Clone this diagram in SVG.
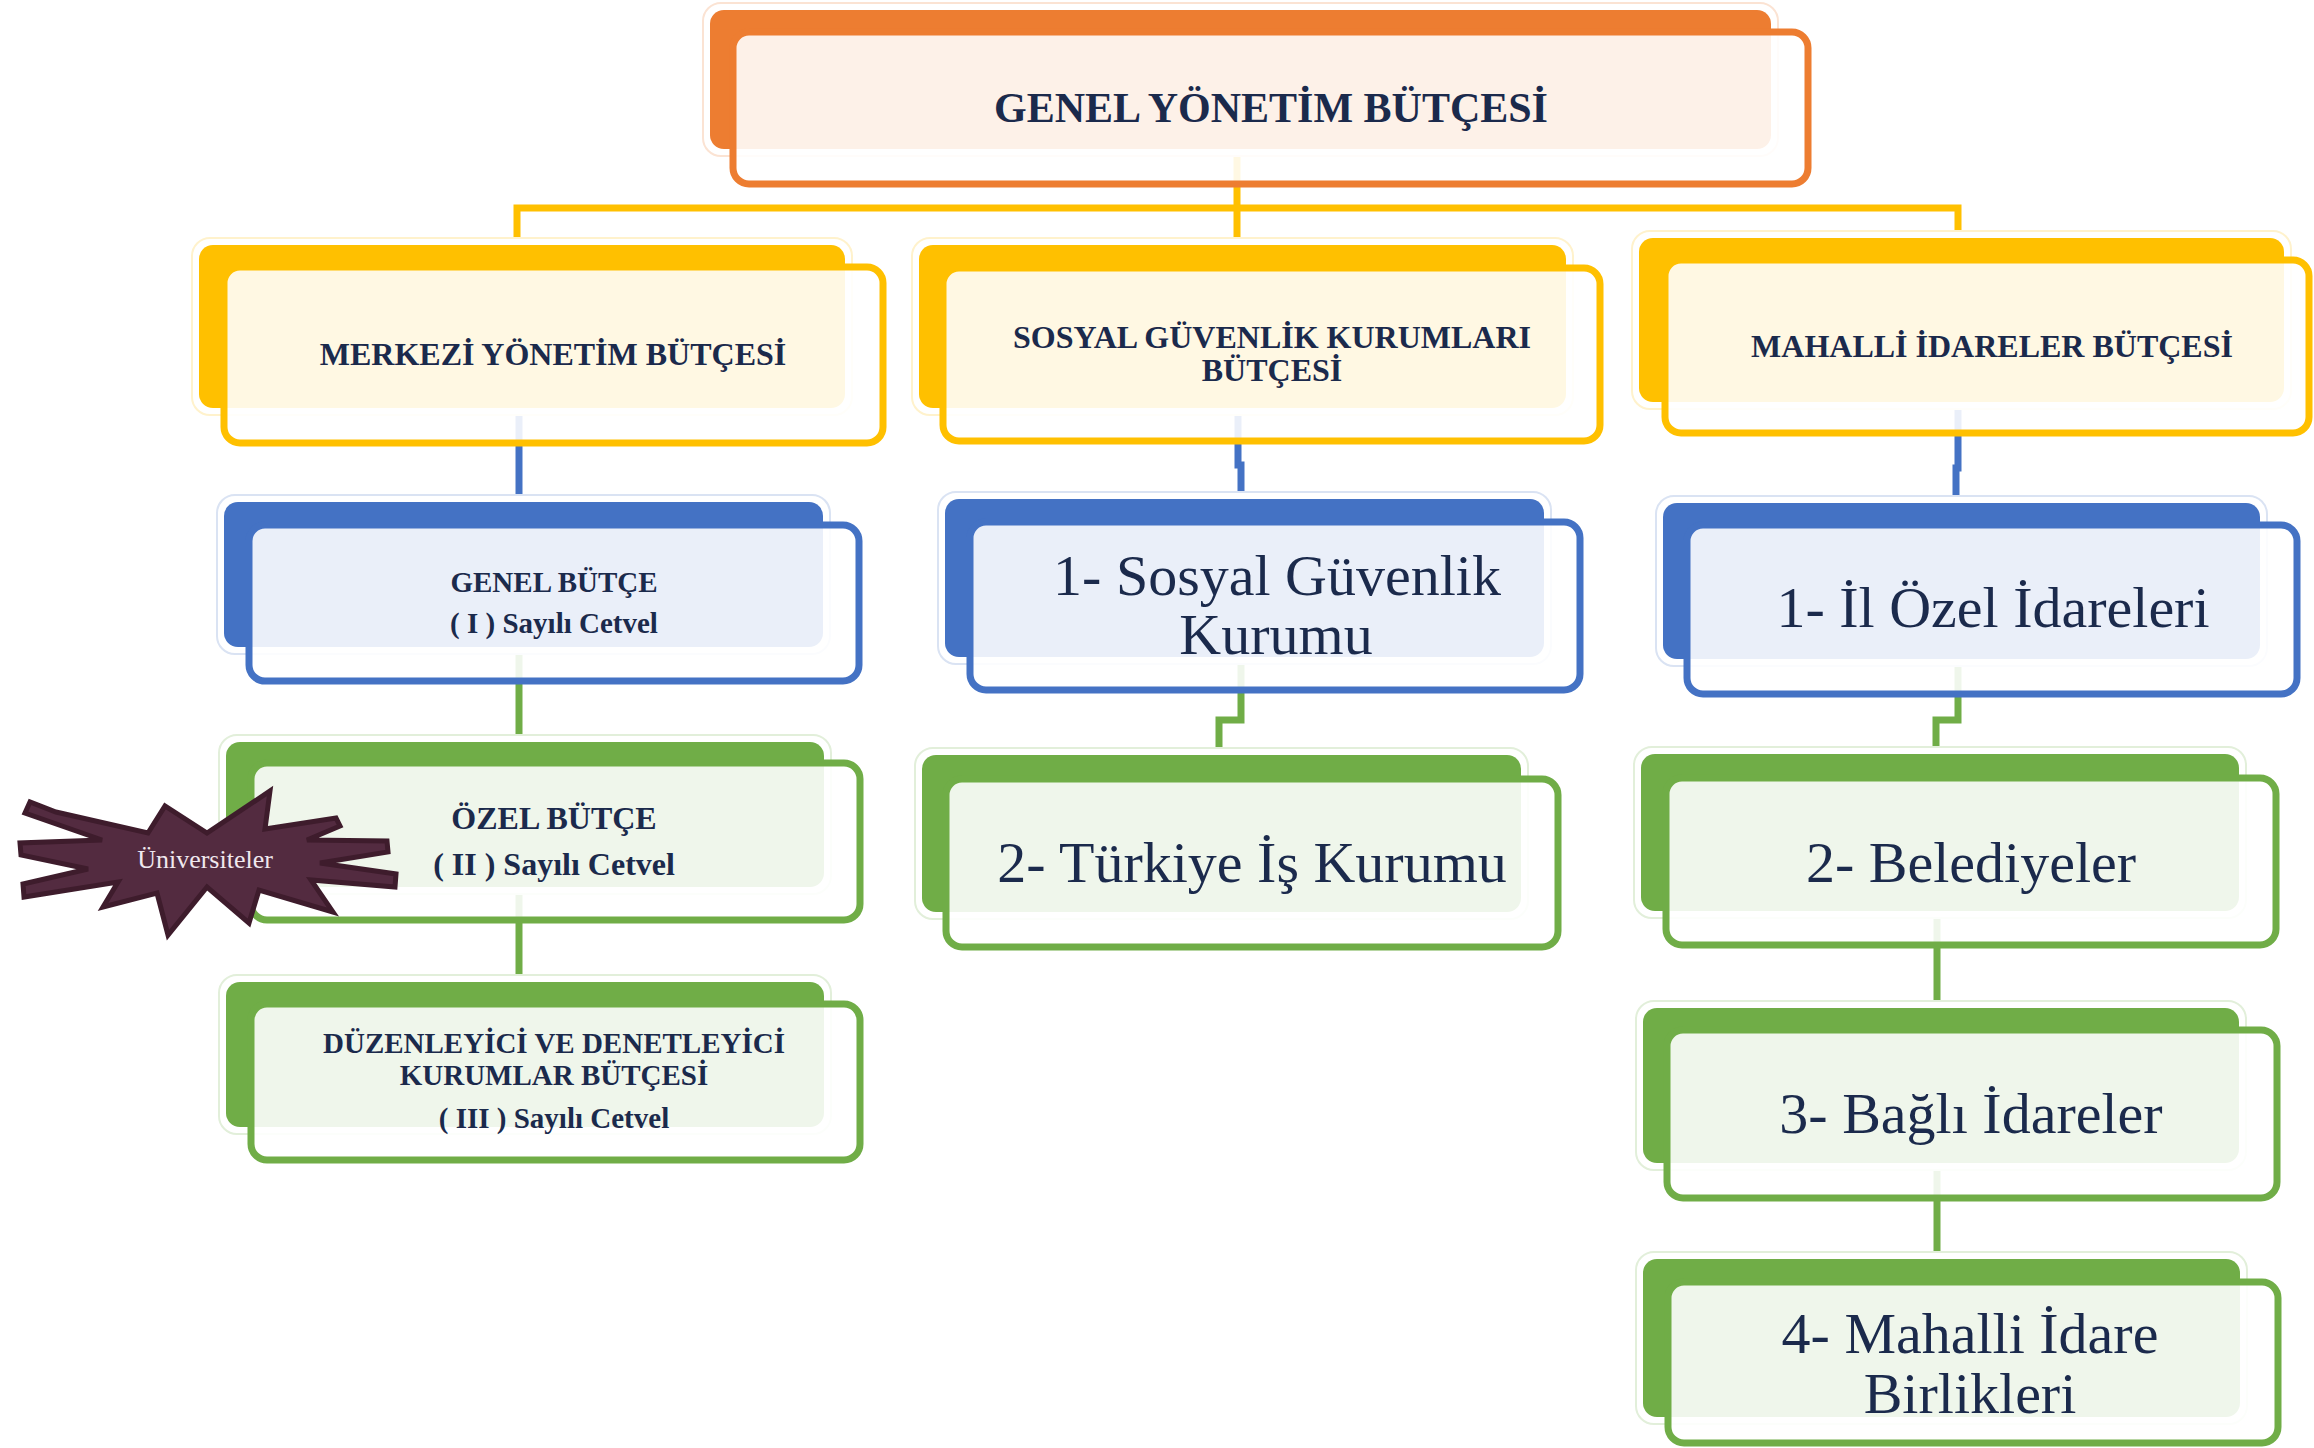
<svg xmlns="http://www.w3.org/2000/svg" width="2314" height="1448" viewBox="0 0 2314 1448">
  <style>
    .halo { fill: #ffffff; stroke-width: 2; }
    .front { fill: #ffffff; fill-opacity: 0.89; stroke-width: 7; }
    .orange .back { fill: #ED7D31; }
    .orange .halo { stroke: #FBE3D3; }
    .orange .front { stroke: #ED7D31; }
    .yellow .back { fill: #FFC000; }
    .yellow .halo { stroke: #FFF2CC; }
    .yellow .front { stroke: #FFC000; }
    .blue .back { fill: #4472C4; }
    .blue .halo { stroke: #DAE3F3; }
    .blue .front { stroke: #4472C4; }
    .green .back { fill: #70AD47; }
    .green .halo { stroke: #E2EFDA; }
    .green .front { stroke: #70AD47; }
    text { font-family: "Liberation Serif", "Times New Roman", serif; fill: #1B2A4C; text-anchor: middle; }
    .h1 { font-size: 42px; font-weight: bold; }
    .h2 { font-size: 32px; font-weight: bold; }
    .h3 { font-size: 29px; font-weight: bold; }
    .big { font-size: 58px; }
    .conn { fill: none; stroke-width: 7; stroke-linejoin: miter; }
    .star { fill: #532B40; stroke: #3E1C2C; stroke-width: 5; stroke-linejoin: miter; }
    .star-label { font-size: 26px; fill: #F0E8EE; }
  </style>

  <!-- connectors, drawn beneath the boxes -->
  <g id="connectors">
    <path class="conn" stroke="#FFC000" d="M517,245 V208 H1958 V238"/>
    <path class="conn" stroke="#FFC000" d="M1237,150 V245"/>
    <path class="conn" stroke="#4472C4" d="M519,408 V502"/>
    <path class="conn" stroke="#4472C4" d="M1238,408 V465 H1241 V499"/>
    <path class="conn" stroke="#4472C4" d="M1958,402 V468 H1956 V503"/>
    <path class="conn" stroke="#70AD47" d="M519,647 V742"/>
    <path class="conn" stroke="#70AD47" d="M519,887 V982"/>
    <path class="conn" stroke="#70AD47" d="M1241,657 V720 H1219 V755"/>
    <path class="conn" stroke="#70AD47" d="M1958,659 V720 H1936 V754"/>
    <path class="conn" stroke="#70AD47" d="M1937,911 V1008"/>
    <path class="conn" stroke="#70AD47" d="M1937,1163 V1259"/>
  </g>

  <!-- root -->
  <g id="genel-yonetim" class="orange">
    <rect class="halo" x="703" y="3" width="1075" height="153" rx="18"/>
    <rect class="back" x="710" y="10" width="1061" height="139" rx="14"/>
    <rect class="front" x="733" y="32" width="1075" height="152" rx="16"/>
    <text class="h1" x="1271" y="122">GENEL YÖNETİM BÜTÇESİ</text>
  </g>

  <!-- second level -->
  <g id="merkezi" class="yellow">
    <rect class="halo" x="192" y="238" width="660" height="177" rx="18"/>
    <rect class="back" x="199" y="245" width="646" height="163" rx="14"/>
    <rect class="front" x="224" y="267" width="659" height="176" rx="16"/>
    <text class="h2" x="553" y="365">MERKEZİ YÖNETİM BÜTÇESİ</text>
  </g>

  <g id="sosyal-guvenlik" class="yellow">
    <rect class="halo" x="912" y="238" width="661" height="177" rx="18"/>
    <rect class="back" x="919" y="245" width="647" height="163" rx="14"/>
    <rect class="front" x="943" y="268" width="657" height="173" rx="16"/>
    <text class="h2" x="1272" y="348">SOSYAL GÜVENLİK KURUMLARI</text>
    <text class="h2" x="1272" y="381">BÜTÇESİ</text>
  </g>

  <g id="mahalli" class="yellow">
    <rect class="halo" x="1632" y="231" width="659" height="178" rx="18"/>
    <rect class="back" x="1639" y="238" width="645" height="164" rx="14"/>
    <rect class="front" x="1665" y="260" width="644" height="173" rx="16"/>
    <text class="h2" x="1992" y="357">MAHALLİ İDARELER BÜTÇESİ</text>
  </g>

  <!-- central government column -->
  <g id="genel-butce" class="blue">
    <rect class="halo" x="217" y="495" width="613" height="159" rx="18"/>
    <rect class="back" x="224" y="502" width="599" height="145" rx="14"/>
    <rect class="front" x="249" y="525" width="610" height="156" rx="16"/>
    <text class="h3" x="554" y="592">GENEL BÜTÇE</text>
    <text class="h3" x="554" y="633">( I ) Sayılı Cetvel</text>
  </g>

  <g id="ozel-butce" class="green">
    <rect class="halo" x="219" y="735" width="612" height="159" rx="18"/>
    <rect class="back" x="226" y="742" width="598" height="145" rx="14"/>
    <rect class="front" x="251" y="763" width="609" height="157" rx="16"/>
    <text class="h2" x="554" y="829">ÖZEL BÜTÇE</text>
    <text class="h2" x="554" y="875">( II ) Sayılı Cetvel</text>
  </g>

  <g id="duzenleyici" class="green">
    <rect class="halo" x="219" y="975" width="612" height="159" rx="18"/>
    <rect class="back" x="226" y="982" width="598" height="145" rx="14"/>
    <rect class="front" x="251" y="1004" width="609" height="156" rx="16"/>
    <text class="h3" x="554" y="1053">DÜZENLEYİCİ VE DENETLEYİCİ</text>
    <text class="h3" x="554" y="1085">KURUMLAR BÜTÇESİ</text>
    <text class="h3" x="554" y="1128">( III ) Sayılı Cetvel</text>
  </g>

  <!-- social security column -->
  <g id="sgk" class="blue">
    <rect class="halo" x="938" y="492" width="613" height="172" rx="18"/>
    <rect class="back" x="945" y="499" width="599" height="158" rx="14"/>
    <rect class="front" x="970" y="522" width="610" height="168" rx="16"/>
    <text class="big" x="1277" y="595">1- Sosyal Güvenlik</text>
    <text class="big" x="1276" y="654">Kurumu</text>
  </g>

  <g id="iskur" class="green">
    <rect class="halo" x="915" y="748" width="613" height="171" rx="18"/>
    <rect class="back" x="922" y="755" width="599" height="157" rx="14"/>
    <rect class="front" x="946" y="779" width="612" height="168" rx="16"/>
    <text class="big" x="1252" y="882">2- Türkiye İş Kurumu</text>
  </g>

  <!-- local administrations column -->
  <g id="il-ozel" class="blue">
    <rect class="halo" x="1656" y="496" width="611" height="170" rx="18"/>
    <rect class="back" x="1663" y="503" width="597" height="156" rx="14"/>
    <rect class="front" x="1687" y="525" width="610" height="169" rx="16"/>
    <text class="big" x="1993" y="627">1- İl Özel İdareleri</text>
  </g>

  <g id="belediyeler" class="green">
    <rect class="halo" x="1634" y="747" width="612" height="171" rx="18"/>
    <rect class="back" x="1641" y="754" width="598" height="157" rx="14"/>
    <rect class="front" x="1666" y="778" width="610" height="167" rx="16"/>
    <text class="big" x="1971" y="882">2- Belediyeler</text>
  </g>

  <g id="bagli-idareler" class="green">
    <rect class="halo" x="1636" y="1001" width="610" height="169" rx="18"/>
    <rect class="back" x="1643" y="1008" width="596" height="155" rx="14"/>
    <rect class="front" x="1667" y="1030" width="610" height="168" rx="16"/>
    <text class="big" x="1971" y="1133">3- Bağlı İdareler</text>
  </g>

  <g id="mahalli-birlikler" class="green">
    <rect class="halo" x="1636" y="1252" width="611" height="172" rx="18"/>
    <rect class="back" x="1643" y="1259" width="597" height="158" rx="14"/>
    <rect class="front" x="1668" y="1282" width="610" height="161" rx="16"/>
    <text class="big" x="1970" y="1353">4- Mahalli İdare</text>
    <text class="big" x="1970" y="1413">Birlikleri</text>
  </g>

  <!-- burst callout on the special budget box -->
  <g id="universiteler">
    <polygon class="star" points="25,813 30,802 56,812 148,833 165,806 207,833 270,791 265,829 336,818 340,826 307,840 387,841 388,852 320,863 396,874 395,887 311,880 333,912 259,890 249,923 207,887 168,935 157,893 103,907 118,882 24,897 23,884 88,869 21,855 20,843 102,840"/>
    <text class="star-label" x="205" y="868">Üniversiteler</text>
  </g>
</svg>
